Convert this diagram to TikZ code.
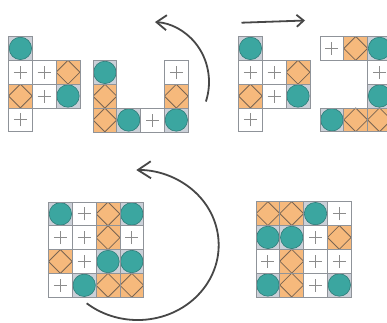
\documentclass[tikz,border=0pt]{standalone}
\usetikzlibrary{arrows.meta}
\definecolor{tealc}{HTML}{3BA6A0}
\definecolor{tealdark}{HTML}{2E7C78}
\definecolor{orangec}{HTML}{F6B97C}
\definecolor{diamc}{HTML}{7A6552}
\definecolor{circbg}{HTML}{CBD0D8}
\definecolor{gridc}{HTML}{8F9399}
\definecolor{plusc}{HTML}{8C8C8C}
\definecolor{arrc}{HTML}{474747}
\tikzset{
  tl/.style={draw=gridc, line width=0.7pt, minimum size=23.8pt, inner sep=0pt, outer sep=0pt, anchor=north west},
  pl/.style={tl, fill=white, path picture={
      \draw[plusc, line width=0.9pt]
        ([xshift=-6.5pt]path picture bounding box.center) -- ([xshift=6.5pt]path picture bounding box.center)
        ([yshift=-6.5pt]path picture bounding box.center) -- ([yshift=6.5pt]path picture bounding box.center);}},
  dm/.style={tl, fill=orangec, path picture={
      \draw[diamc, line width=0.8pt] (path picture bounding box.north) -- (path picture bounding box.east)
        -- (path picture bounding box.south) -- (path picture bounding box.west) -- cycle;}},
  ci/.style={tl, fill=circbg, path picture={
      \filldraw[fill=tealc, draw=tealdark, line width=0.6pt] (path picture bounding box.center) circle (11.2pt);}},
  arr/.style={draw=arrc, line width=1.8pt},
}
\newcommand\tilepiece[4]{%
  \foreach \r/\c/\t in {#4} {\node[\t] (#1-\r-\c) at (#2+\c*23.8, #3+\r*23.8) {};}%
}
\begin{document}
\begin{tikzpicture}[x=1pt,y=-1pt]
\clip (0,0) rectangle (387,322);
\fill[white] (0,0) rectangle (387,322);
% top left pieces
\tilepiece{pa}{8.5}{36.5}{0/0/ci, 1/0/pl, 1/1/pl, 1/2/dm, 2/0/dm, 2/1/pl, 2/2/ci, 3/0/pl}
\tilepiece{pb}{93}{60.5}{0/0/ci, 0/3/pl, 1/0/dm, 1/3/dm, 2/0/dm, 2/1/ci, 2/2/pl, 2/3/ci}
% top right pieces
\tilepiece{pc}{238.5}{36.5}{0/0/ci, 1/0/pl, 1/1/pl, 1/2/dm, 2/0/dm, 2/1/pl, 2/2/ci, 3/0/pl}
\tilepiece{pd}{320}{36.5}{0/0/pl, 0/1/dm, 0/2/ci, 1/2/pl, 2/2/ci, 3/0/ci, 3/1/dm, 3/2/dm}
% bottom squares
\tilepiece{pe}{48.5}{202}{0/0/ci, 0/1/pl, 0/2/dm, 0/3/ci,
  1/0/pl, 1/1/pl, 1/2/dm, 1/3/pl,
  2/0/dm, 2/1/pl, 2/2/ci, 2/3/ci,
  3/0/pl, 3/1/ci, 3/2/dm, 3/3/dm}
\tilepiece{pf}{256}{201.7}{0/0/dm, 0/1/dm, 0/2/ci, 0/3/pl,
  1/0/ci, 1/1/ci, 1/2/pl, 1/3/dm,
  2/0/pl, 2/1/dm, 2/2/pl, 2/3/pl,
  3/0/ci, 3/1/dm, 3/2/pl, 3/3/ci}
% arrows
\coordinate (a1s) at (205.9,101.5);
\draw[arr, -{Straight Barb[length=10pt,width=15pt]}] (a1s) arc[start angle=19, end angle=-87, x radius=57, y radius=60];
\coordinate (a2s) at (241.5,22.7);
\coordinate (a2e) at (305,20.5);
\draw[arr, -{Straight Barb[length=7pt,width=12pt]}] (a2s) -- (a2e);
\coordinate (a3s) at (86.7,303.3);
\draw[arr, -{Straight Barb[length=13pt,width=17pt]}] (a3s) arc[start angle=129, end angle=-91, x radius=81, y radius=75];
\end{tikzpicture}
\end{document}
